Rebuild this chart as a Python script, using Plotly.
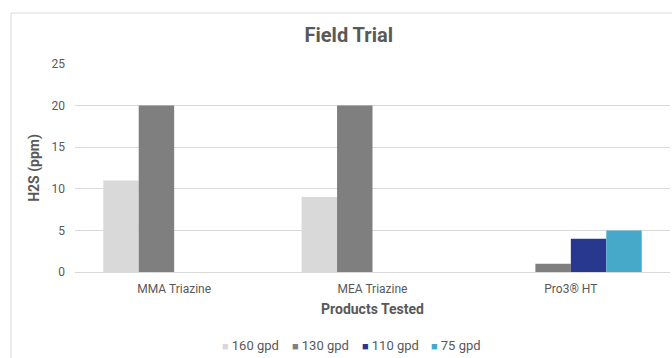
import plotly.graph_objects as go

categories = ["MMA Triazine", "MEA Triazine", "Pro3® HT"]
series_names = ["160 gpd", "130 gpd", "110 gpd", "75 gpd"]
vals_160 = [11, 9, None]
vals_130 = [20, 20, 1]
vals_110 = [None, None, 4]
vals_75 = [None, None, 5]
y_ticks = [0, 5, 10, 15, 20, 25]

colors = ["#D9D9D9", "#7F7F7F", "#29388F", "#47A9C9"]
series_vals = [vals_160, vals_130, vals_110, vals_75]
legend_widths = [25, 25, 24, 50]

TXT = "#595959"
FONT = "Roboto"

fig = go.Figure()
for name, vals, col in zip(series_names, series_vals, colors):
    fig.add_trace(go.Bar(x=categories, y=vals, name=name, marker=dict(color=col, line=dict(width=0)),
                         showlegend=False))

for name, col, lw in zip(series_names, colors, legend_widths):
    fig.add_trace(go.Scatter(
        x=[None], y=[None], mode="markers",
        marker=dict(color="rgba(0,0,0,0)", opacity=0, size=0, line=dict(width=0, color="rgba(0,0,0,0)")),
        name=f'<span style="color:{col};font-size:11px">■</span> {name}',
        legendwidth=lw, showlegend=True, hoverinfo="skip"))

# frame around the chart area (extends beyond the visible picture)
fig.add_shape(type="rect", xref="paper", yref="paper",
              x0=-0.1075, x1=1.3, y0=-0.8, y1=1.245,
              line=dict(color="#D9D9D9", width=1), fillcolor="rgba(0,0,0,0)", layer="below")

fig.update_layout(
    width=672, height=358,
    margin=dict(l=75, r=2, t=64, b=86, autoexpand=False),
    paper_bgcolor="white", plot_bgcolor="white",
    barmode="group", bargap=0.285, bargroupgap=0,
    font=dict(family=FONT, color=TXT, size=12),
    title=dict(text="<b>Field Trial</b>", x=0.519, xanchor="center", xref="container",
               y=1 - 35 / 358, yanchor="middle", yref="container",
               font=dict(size=20, color=TXT, family=FONT)),
    legend=dict(orientation="h", x=(182 - 75) / 595.5, xanchor="left",
                y=(272 - 345) / 208, yanchor="middle",
                font=dict(size=13, color=TXT, family=FONT),
                itemwidth=30, bgcolor="rgba(0,0,0,0)"),
    showlegend=True,
)
fig.update_xaxes(
    type="category", categoryarray=categories, categoryorder="array",
    showgrid=False, showline=False, ticks="", automargin=False, ticklabelstandoff=8,
    tickfont=dict(size=12, color=TXT),
    title=dict(text="<b>Products Tested</b>", font=dict(size=14, color=TXT), standoff=9),
)
fig.update_yaxes(
    range=[0, 25], tickvals=y_ticks, showgrid=True, gridcolor="#D9D9D9", gridwidth=1,
    zeroline=True, zerolinecolor="#D9D9D9", zerolinewidth=1,
    showline=False, ticks="", ticklabelstandoff=9, automargin=False,
    tickfont=dict(size=12, color=TXT),
    title=dict(text="<b>H2S (ppm)</b>", font=dict(size=14, color=TXT), standoff=8),
)

fig.write_html("out.html", config={"displayModeBar": False},
               post_script="document.body.style.margin='0';document.body.style.overflow='hidden';")
